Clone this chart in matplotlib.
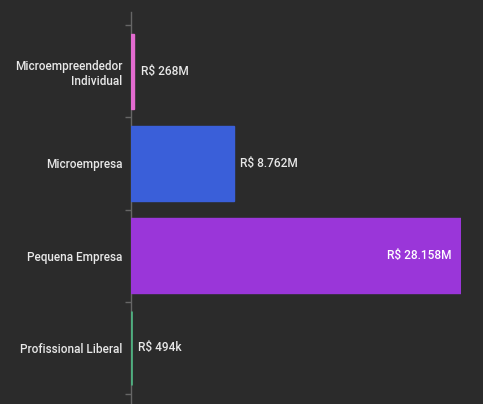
import matplotlib
matplotlib.use("Agg")
import matplotlib.pyplot as plt
import numpy as np

# ── Data ─────────────────────────────────────────────────────────────────────
categories = ["Microempreendedor\nIndividual", "Microempresa",
              "Pequena Empresa", "Profissional Liberal"]
values_mi = [268, 8762, 28158, 0.494]          # R$ milhões
value_labels = ["R$ 268M", "R$ 8.762M", "R$ 28.158M", "R$ 494k"]
colors = ["#e36bd0", "#3a5fd9", "#9a36d9", "#4fae7f"]

BG = "#2b2b2b"
TXT = "#e8e8e8"

plt.rcParams["font.family"] = ["Roboto", "DejaVu Sans"]

fig = plt.figure(figsize=(4.83, 4.04), dpi=100, facecolor=BG)
ax = fig.add_axes([131 / 483, 0.0, 330 / 483, 1 - 12 / 404])
ax.set_facecolor(BG)

y = np.arange(len(categories))
ax.barh(y, values_mi, height=0.81, color=colors, edgecolor=colors,
        linewidth=[1.0, 1.0, 1.0, 2.0], zorder=3)

xmax = max(values_mi)
ax.set_xlim(0, xmax)
ax.set_ylim(3.608, -0.641)

# value labels: inside for the big bar, outside otherwise
for yi, v, lab in zip(y, values_mi, value_labels):
    if v > 0.6 * xmax:
        ax.text(v - xmax * 0.03, yi, lab, ha="right", va="center",
                color="white", fontsize=8.6, fontweight="medium")
    else:
        ax.text(v + xmax * 0.02, yi, lab, ha="left", va="center",
                color=TXT, fontsize=8.6, fontweight="medium")

# category labels centred, tick marks on the boundaries
ax.set_yticks(y)
ax.set_yticklabels(categories, fontsize=8.5, color=TXT, fontweight="medium")
ax.tick_params(axis="y", which="major", length=0, pad=6)
ax.set_yticks(np.arange(-0.5, len(categories), 1.0), minor=True)
ax.tick_params(axis="y", which="minor", length=4, color="#666666", width=1)
for t in ax.get_yticklabels():
    t.set_multialignment("right")

ax.set_xticks([])
for s in ["top", "right", "bottom"]:
    ax.spines[s].set_visible(False)
ax.spines["left"].set_color("#666666")
ax.spines["left"].set_linewidth(1)

fig.savefig("out.png", dpi=100, facecolor=BG)
